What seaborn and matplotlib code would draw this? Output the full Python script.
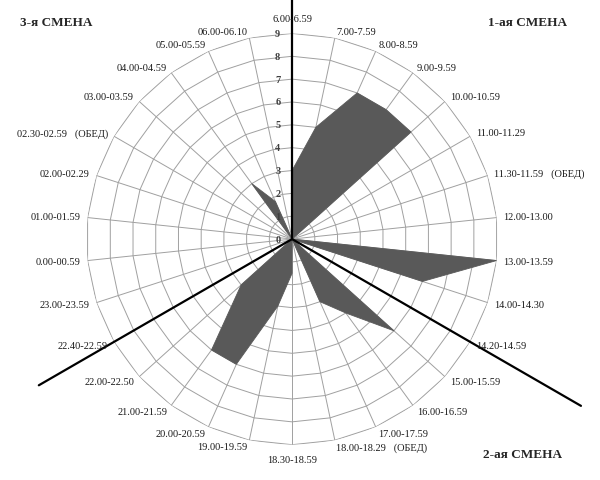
import numpy as np
import pandas as pd
import matplotlib
matplotlib.use('Agg')
import matplotlib.pyplot as plt
import seaborn as sns

# time slots (clockwise from the top)
slots = ['6.00-6.59', '7.00-7.59', '8.00-8.59', '9.00-9.59', '10.00-10.59',
         '11.00-11.29', '11.30-11.59   (ОБЕД)', '12.00-13.00', '13.00-13.59',
         '14.00-14.30', '14.20-14.59', '15.00-15.59', '16.00-16.59',
         '17.00-17.59', '18.00-18.29   (ОБЕД)', '18.30-18.59', '19.00-19.59',
         '20.00-20.59', '21.00-21.59', '22.00-22.50', '22.40-22.59',
         '23.00-23.59', '0.00-00.59', '01.00-01.59', '02.00-02.29',
         '02.30-02.59   (ОБЕД)', '03.00-03.59', '04.00-04.59', '05.00-05.59',
         '06.00-06.10']
values = [3, 5, 7, 7, 7, 0, 0, 0, 9, 6, 0, 6, 4, 3, 0, 1.5,
          3, 6, 6, 3, 0, 0, 0, 0, 0, 0, 0, 3, 1.8, 0]
levels = [0, 1, 2, 3, 4, 5, 6, 7, 8, 9]

# shift borders: slot where each shift starts, and line length
shift_starts = ['6.00-6.59', '14.20-14.59', '22.40-22.59']
shift_len = [11, 14.6, 12.8]
shift_titles = ['1-ая СМЕНА', '2-ая СМЕНА', '3-я СМЕНА']

df = pd.DataFrame({'slot': slots, 'value': values})
n = len(df)
df['theta'] = np.linspace(0, 2 * np.pi, n, endpoint=False)
closed = pd.concat([df, df.iloc[:1]], ignore_index=True)

sns.set_theme(style='white')
plt.rcParams['font.family'] = ['Liberation Serif', 'DejaVu Serif']

fig = plt.figure(figsize=(6, 4.81), dpi=100)
ax = fig.add_axes([0.1438, 0.0734, 0.686, 0.855], projection='polar')
ax.set_theta_zero_location('N')
ax.set_theta_direction(-1)
ax.set_ylim(0, 9)
ax.grid(False)
ax.spines['polar'].set_visible(False)
ax.set_xticks([])
ax.set_yticks([])
ax.patch.set_alpha(0)

grid_c = '#a0a0a0'
# polygon rings
for lv in levels[1:]:
    ax.plot(closed['theta'], [lv] * len(closed), color=grid_c, lw=0.7, zorder=1)
# spokes
for t in df['theta']:
    ax.plot([t, t], [0, levels[-1]], color=grid_c, lw=0.7, zorder=1)

# the filled radar shape
ax.fill(closed['theta'], closed['value'], color='#595959', lw=0, zorder=2)
sns.lineplot(x=closed['theta'], y=closed['value'], sort=False, ax=ax,
             color='#595959', lw=0.6, zorder=3)
ax.set_xlabel('')
ax.set_ylabel('')

# shift divider lines
for s, L in zip(shift_starts, shift_len):
    t = df.loc[df['slot'] == s, 'theta'].iloc[0]
    ax.plot([t, t], [0, L], color='black', lw=1.6, clip_on=False, zorder=4)

# value axis labels
for lv in levels:
    ax.annotate(str(lv), xy=(0, lv), xytext=(-8.5, 0), textcoords='offset points',
                ha='right', va='center', fontsize=7.5, fontweight='bold',
                color='#404040', annotation_clip=False, zorder=5)

# category labels
for _, row in df.iterrows():
    s, c = np.sin(row['theta']), np.cos(row['theta'])
    if abs(s) < 0.01:
        ha, pad = 'center', 10.5
    else:
        ha, pad = ('left' if s > 0 else 'right'), 5
    ax.annotate(row['slot'], xy=(row['theta'], 9),
                xytext=(pad * s, pad * c), textcoords='offset points',
                ha=ha, va='center', fontsize=7.5, color='#1a1a1a',
                annotation_clip=False, zorder=5)

fig.text(0.813, 0.953, shift_titles[0], fontsize=9.5, fontweight='bold', va='center')
fig.text(0.805, 0.054, shift_titles[1], fontsize=9.5, fontweight='bold', va='center')
fig.text(0.033, 0.953, shift_titles[2], fontsize=9.5, fontweight='bold', va='center')

fig.savefig('out.png', dpi=100)
